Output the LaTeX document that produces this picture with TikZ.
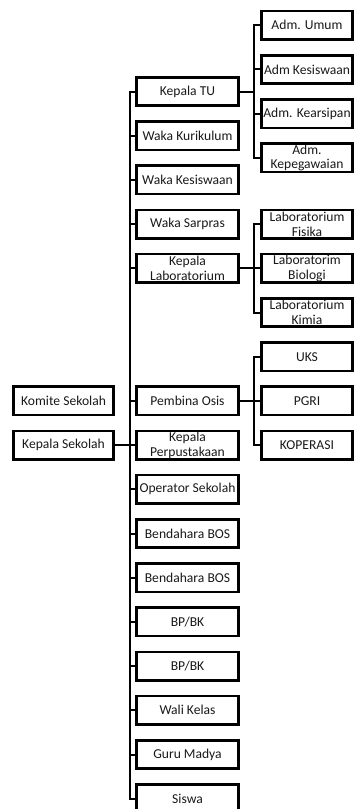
\documentclass[tikz,border=0pt]{standalone}
\usepackage{fontspec}
\setmainfont{Carlito}
\begin{document}
\begin{tikzpicture}[x=1pt,y=-1pt,
  box/.style={draw, line width=2.6pt, minimum height=28.4pt, inner sep=0pt, align=center,
              font=\fontsize{13.6}{14.6}\selectfont, text=black!90},
  mid/.style={box, minimum width=102.4pt},
  rgt/.style={box, minimum width=91.4pt},
  lft/.style={box, minimum width=100.4pt},
  conn/.style={line width=2pt, line cap=rect}]
\useasboundingbox (0,0) rectangle (355,809);
\def\p{44.2}
% left column
\node[lft] (komite) at (63.5,{91.5+\p*7}) {Komite Sekolah};
\node[lft] (kepsek) at (63.5,{91.5+\p*8}) {Kepala Sekolah};
% middle column
\node[mid] (m0)  at (187.5,{91.5+\p*0})  {Kepala TU};
\node[mid] (m1)  at (187.5,{91.5+\p*1})  {Waka Kurikulum};
\node[mid] (m2)  at (187.5,{91.5+\p*2})  {Waka Kesiswaan};
\node[mid] (m3)  at (187.5,{91.5+\p*3})  {Waka Sarpras};
\node[mid] (m4)  at (187.5,{91.5+\p*4})  {Kepala\\Laboratorium};
\node[mid] (m7)  at (187.5,{91.5+\p*7})  {Pembina Osis};
\node[mid] (m8)  at (187.5,{91.5+\p*8})  {Kepala\\Perpustakaan};
\node[mid] (m9)  at (187.5,{91.5+\p*9})  {Operator Sekolah};
\node[mid] (m10) at (187.5,{91.5+\p*10}) {Bendahara BOS};
\node[mid] (m11) at (187.5,{91.5+\p*11}) {Bendahara BOS};
\node[mid] (m12) at (187.5,{91.5+\p*12}) {BP/BK};
\node[mid] (m13) at (187.5,{91.5+\p*13}) {BP/BK};
\node[mid] (m14) at (187.5,{91.5+\p*14}) {Wali Kelas};
\node[mid] (m15) at (187.5,{91.5+\p*15}) {Guru Madya};
\node[mid] (m16) at (187.5,{91.5+\p*16}) {Siswa};
% right column
\node[rgt] (a0) at (307,{91.5-\p*1.5}) {Adm. Umum};
\node[rgt] (a1) at (307,{91.5-\p*0.5}) {Adm Kesiswaan};
\node[rgt] (a2) at (307,{91.5+\p*0.5}) {Adm. Kearsipan};
\node[rgt] (a3) at (307,{91.5+\p*1.5}) {Adm.\\Kepegawaian};
\node[rgt] (l3) at (307,{91.5+\p*3}) {Laboratorium\\Fisika};
\node[rgt] (l4) at (307,{91.5+\p*4}) {Laboratorim\\Biologi};
\node[rgt] (l5) at (307,{91.5+\p*5}) {Laboratorium\\Kimia};
\node[rgt] (o6) at (307,{91.5+\p*6}) {UKS};
\node[rgt] (o7) at (307,{91.5+\p*7}) {PGRI};
\node[rgt] (o8) at (307,{91.5+\p*8}) {KOPERASI};
% trunks
\coordinate (tr) at (130,0);
\coordinate (sb) at (253.5,0);
\draw[conn] (tr |- m0.west) -- (tr |- m16.west);
\foreach \n in {m0,m1,m2,m3,m4,m7,m8,m9,m10,m11,m12,m13,m14,m15,m16}
  \draw[conn] (\n.west) -- (tr |- \n.west);
\draw[conn] (kepsek.east) -- (tr |- kepsek.east);
% Adm group
\draw[conn] (m0.east) -- (sb |- m0.east);
\draw[conn] (sb |- a0.west) -- (sb |- a3.west);
\foreach \n in {a0,a1,a2,a3} \draw[conn] (\n.west) -- (sb |- \n.west);
% Lab group
\draw[conn] (m4.east) -- (sb |- m4.east);
\draw[conn] (sb |- l3.west) -- (sb |- l5.west);
\foreach \n in {l3,l4,l5} \draw[conn] (\n.west) -- (sb |- \n.west);
% Osis group
\draw[conn] (m7.east) -- (sb |- m7.east);
\draw[conn] (sb |- o6.west) -- (sb |- o8.west);
\foreach \n in {o6,o7,o8} \draw[conn] (\n.west) -- (sb |- \n.west);
\end{tikzpicture}
\end{document}
